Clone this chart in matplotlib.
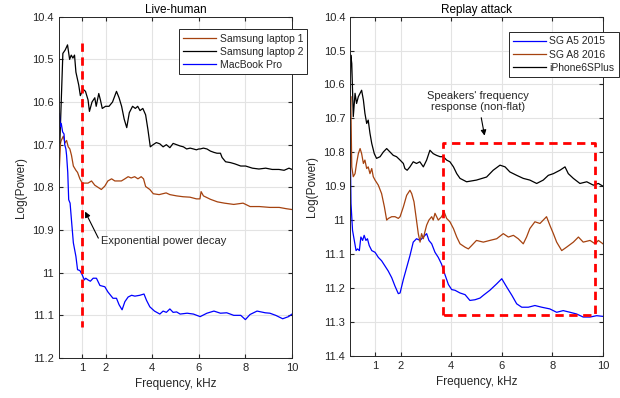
import numpy as np
import matplotlib
matplotlib.use('Agg')
from matplotlib import pyplot as plt
from matplotlib.ticker import FuncFormatter

# Live-human panel
f_lap2 = [0.04, 0.17, 0.27, 0.37, 0.46, 0.53, 0.6, 0.67, 0.73, 0.85, 0.92, 1.04, 1.14, 1.25, 1.31, 1.42, 1.54, 1.6,
          1.71, 1.78, 1.86, 2.0, 2.15, 2.3, 2.47, 2.58, 2.69, 2.8, 2.91, 3.02, 3.16, 3.28, 3.38, 3.48, 3.6, 3.72,
          3.82, 3.92, 4.04, 4.18, 4.33, 4.47, 4.61, 4.76, 4.9, 5.05, 5.2, 5.34, 5.48, 5.63, 5.77, 5.9, 6.0, 6.06,
          6.2, 6.35, 6.5, 6.65, 6.78, 6.93, 7.0, 7.15, 7.36, 7.55, 7.8, 8.01, 8.3, 8.58, 8.87, 9.15, 9.44, 9.66,
          9.87, 10.0]
p_lap2 = [10.696, 10.486, 10.478, 10.466, 10.50, 10.49, 10.497, 10.49, 10.53, 10.56, 10.585, 10.57, 10.575, 10.595,
          10.622, 10.60, 10.59, 10.61, 10.58, 10.595, 10.615, 10.61, 10.61, 10.60, 10.575, 10.59, 10.61, 10.64,
          10.66, 10.625, 10.61, 10.615, 10.61, 10.62, 10.615, 10.63, 10.665, 10.705, 10.70, 10.695, 10.698,
          10.705, 10.70, 10.707, 10.697, 10.70, 10.703, 10.705, 10.71, 10.708, 10.71, 10.712, 10.71, 10.71,
          10.708, 10.71, 10.715, 10.718, 10.72, 10.72, 10.73, 10.74, 10.742, 10.745, 10.75, 10.75, 10.755,
          10.757, 10.755, 10.758, 10.758, 10.76, 10.755, 10.758]

f_lap1 = [0.02, 0.07, 0.1, 0.19, 0.26, 0.33, 0.4, 0.47, 0.54, 0.62, 0.73, 0.8, 0.9, 1.0, 1.1, 1.25, 1.4, 1.54, 1.68,
          1.82, 1.97, 2.1, 2.26, 2.4, 2.54, 2.68, 2.83, 2.97, 3.1, 3.25, 3.39, 3.53, 3.63, 3.72, 3.9, 4.05, 4.3,
          4.6, 4.76, 5.05, 5.33, 5.62, 5.9, 6.05, 6.1, 6.2, 6.5, 6.8, 7.1, 7.5, 7.9, 8.2, 8.6, 9.05, 9.45, 9.75,
          10.0]
p_lap1 = [10.755, 10.696, 10.69, 10.68, 10.696, 10.69, 10.705, 10.71, 10.725, 10.75, 10.76, 10.765, 10.78, 10.79,
          10.79, 10.79, 10.785, 10.795, 10.80, 10.805, 10.797, 10.785, 10.78, 10.785, 10.785, 10.785, 10.78,
          10.775, 10.778, 10.775, 10.78, 10.775, 10.78, 10.798, 10.805, 10.815, 10.817, 10.813, 10.817, 10.82,
          10.822, 10.823, 10.827, 10.827, 10.81, 10.82, 10.828, 10.834, 10.837, 10.84, 10.837, 10.845, 10.845,
          10.847, 10.847, 10.85, 10.852]

f_mac = [0.02, 0.06, 0.1, 0.16, 0.22, 0.25, 0.3, 0.33, 0.38, 0.42, 0.48, 0.55, 0.62, 0.73, 0.8, 0.9, 1.0, 1.09,
         1.15, 1.25, 1.35, 1.47, 1.61, 1.76, 1.97, 2.1, 2.32, 2.47, 2.58, 2.71, 2.83, 2.97, 3.12, 3.26, 3.47, 3.65,
         3.76, 3.9, 4.1, 4.33, 4.47, 4.61, 4.76, 4.9, 5.05, 5.2, 5.5, 5.77, 6.06, 6.35, 6.65, 6.93, 7.2, 7.5, 7.8,
         8.0, 8.2, 8.5, 8.85, 9.05, 9.3, 9.6, 9.85, 10.0]
p_mac = [10.627, 10.658, 10.65, 10.67, 10.675, 10.70, 10.71, 10.725, 10.765, 10.829, 10.837, 10.884, 10.93,
         10.962, 10.993, 10.995, 11.005, 11.017, 11.013, 11.017, 11.02, 11.013, 11.013, 11.03, 11.033, 11.045,
         11.06, 11.06, 11.075, 11.087, 11.068, 11.057, 11.053, 11.055, 11.053, 11.05, 11.065, 11.08, 11.09,
         11.097, 11.09, 11.093, 11.085, 11.093, 11.092, 11.097, 11.095, 11.097, 11.103, 11.095, 11.09, 11.095,
         11.094, 11.1, 11.1, 11.11, 11.098, 11.09, 11.094, 11.095, 11.1, 11.108, 11.103, 11.097]

# Replay attack panel
f_a5 = [0.0, 0.04, 0.1, 0.17, 0.24, 0.3, 0.37, 0.43, 0.5, 0.56, 0.63, 0.69, 0.76, 0.86, 0.99, 1.12, 1.25, 1.38,
        1.51, 1.65, 1.78, 1.91, 1.98, 2.11, 2.24, 2.37, 2.5, 2.63, 2.77, 2.9, 3.03, 3.12, 3.23, 3.36, 3.49, 3.62,
        3.75, 3.89, 4.02, 4.15, 4.35, 4.55, 4.74, 4.94, 5.14, 5.27, 5.53, 5.8, 6.0, 6.2, 6.4, 6.59, 6.79, 7.05,
        7.31, 7.58, 7.9, 8.17, 8.43, 8.7, 8.96, 9.22, 9.49, 9.75, 10.0]
p_a5 = [10.725, 10.951, 11.03, 11.06, 11.09, 11.085, 11.09, 11.05, 11.06, 11.045, 11.06, 11.055, 11.075, 11.09,
        11.095, 11.11, 11.12, 11.135, 11.15, 11.17, 11.195, 11.217, 11.215, 11.175, 11.14, 11.105, 11.065, 11.055,
        11.06, 11.05, 11.04, 11.06, 11.07, 11.095, 11.11, 11.13, 11.16, 11.19, 11.205, 11.207, 11.215, 11.22,
        11.237, 11.235, 11.23, 11.222, 11.207, 11.188, 11.173, 11.198, 11.222, 11.247, 11.257, 11.257, 11.252,
        11.257, 11.262, 11.272, 11.267, 11.272, 11.277, 11.286, 11.286, 11.282, 11.284]

f_a8 = [0.0, 0.03, 0.07, 0.13, 0.2, 0.26, 0.33, 0.4, 0.46, 0.53, 0.59, 0.66, 0.72, 0.79, 0.86, 0.92, 0.99, 1.12,
        1.25, 1.36, 1.45, 1.52, 1.65, 1.78, 1.91, 1.98, 2.11, 2.24, 2.37, 2.44, 2.53, 2.61, 2.7, 2.77, 2.83, 2.9,
        2.96, 3.03, 3.12, 3.23, 3.29, 3.36, 3.49, 3.62, 3.72, 3.82, 3.95, 4.09, 4.22, 4.35, 4.55, 4.68, 4.81, 5.0,
        5.27, 5.53, 5.8, 6.06, 6.26, 6.46, 6.65, 6.85, 6.98, 7.11, 7.31, 7.51, 7.64, 7.77, 7.9, 8.04, 8.17, 8.37,
        8.56, 8.83, 9.03, 9.22, 9.49, 9.69, 9.82, 10.0]
p_a8 = [10.705, 10.635, 10.843, 10.872, 10.863, 10.833, 10.804, 10.789, 10.804, 10.833, 10.823, 10.848, 10.843,
        10.863, 10.848, 10.872, 10.882, 10.897, 10.922, 10.961, 11.0, 10.995, 10.99, 10.99, 10.995, 10.99, 10.961,
        10.927, 10.912, 10.922, 10.946, 10.99, 11.04, 11.065, 11.04, 11.055, 11.035, 11.015, 11.0, 10.99, 11.0,
        10.98, 11.0, 10.99, 10.975, 10.995, 11.005, 11.025, 11.05, 11.07, 11.08, 11.085, 11.075, 11.06, 11.065,
        11.06, 11.055, 11.04, 11.05, 11.045, 11.055, 11.07, 11.05, 11.025, 11.005, 11.01, 11.0, 10.99, 11.015,
        11.04, 11.065, 11.09, 11.08, 11.065, 11.05, 11.065, 11.06, 11.07, 11.06, 11.07]

f_ip = [0.0, 0.03, 0.07, 0.13, 0.2, 0.26, 0.33, 0.46, 0.53, 0.59, 0.66, 0.72, 0.79, 0.86, 0.96, 1.05, 1.19, 1.32,
        1.45, 1.58, 1.71, 1.84, 1.98, 2.11, 2.17, 2.26, 2.37, 2.5, 2.63, 2.76, 2.9, 3.03, 3.16, 3.29, 3.42, 3.56,
        3.69, 3.82, 3.95, 4.09, 4.22, 4.35, 4.61, 5.0, 5.4, 5.66, 5.93, 6.13, 6.32, 6.59, 6.85, 7.11, 7.38, 7.64,
        7.84, 8.04, 8.3, 8.5, 8.63, 8.83, 9.09, 9.36, 9.62, 9.82, 10.0]
p_ip = [10.656, 10.513, 10.538, 10.695, 10.626, 10.656, 10.636, 10.617, 10.646, 10.685, 10.715, 10.705, 10.744,
        10.774, 10.804, 10.818, 10.813, 10.799, 10.789, 10.799, 10.809, 10.813, 10.823, 10.833, 10.848, 10.853,
        10.843, 10.828, 10.833, 10.828, 10.843, 10.823, 10.794, 10.804, 10.809, 10.813, 10.813, 10.823, 10.828,
        10.843, 10.863, 10.877, 10.887, 10.882, 10.873, 10.853, 10.838, 10.843, 10.858, 10.868, 10.877, 10.882,
        10.892, 10.882, 10.868, 10.863, 10.853, 10.843, 10.863, 10.877, 10.892, 10.887, 10.897, 10.892, 10.9]

brown = '#a5420f'
gray = '#262626'
plt.rcParams['font.family'] = ['Liberation Sans', 'DejaVu Sans']
plt.rcParams['font.size'] = 8

fig = plt.figure(figsize=(6.2, 3.98), dpi=100)
ax1 = fig.add_axes([0.095, 0.1005, 0.376, 0.8575])
ax2 = fig.add_axes([0.5645, 0.1063, 0.408, 0.8518])


def style(ax, ylo, yhi):
    ax.set_xlim(0, 10)
    ax.set_ylim(yhi, ylo)
    ax.set_xticks([1, 2, 4, 6, 8, 10])
    ax.set_yticks(np.round(np.arange(ylo, yhi + 0.001, 0.1), 1))
    ax.yaxis.set_major_formatter(FuncFormatter(lambda v, p: '%g' % v))
    ax.grid(True, color='#e3e3e3', linewidth=0.8)
    ax.set_axisbelow(True)
    ax.tick_params(direction='in', top=True, right=True, length=3, colors=gray, labelcolor=gray)
    for s in ax.spines.values():
        s.set_color(gray)
        s.set_linewidth(0.7)
    ax.set_xlabel('Frequency, kHz', color=gray, fontsize=8.5)
    ax.set_ylabel('Log(Power)', color=gray, fontsize=8.5)


def add_legend(ax, x, y):
    leg = ax.legend(loc='upper left', bbox_to_anchor=(x, y), frameon=True, fancybox=False,
                    edgecolor=gray, framealpha=1, handlelength=3.2, borderpad=0.4, labelspacing=0.3,
                    handletextpad=0.3, borderaxespad=0, fontsize=7.5)
    leg.get_frame().set_linewidth(0.7)
    for t in leg.get_texts():
        t.set_color(gray)


ax1.plot(f_lap1, p_lap1, color=brown, lw=0.9, label='Samsung laptop 1')
ax1.plot(f_lap2, p_lap2, color='black', lw=0.9, label='Samsung laptop 2')
ax1.plot(f_mac, p_mac, color='#0000ff', lw=0.9, label='MacBook Pro')
ax1.plot([0.97, 0.97], [10.461, 11.127], color='red', lw=2, ls=(0, (3, 2)))
style(ax1, 10.4, 11.2)
ax1.set_title('Live-human', fontsize=8.5, pad=3)
ax1.annotate('Exponential power decay', xy=(1.07, 10.851), xytext=(4.5, 10.925),
             ha='center', va='center', fontsize=8, color=gray,
             arrowprops=dict(arrowstyle='-|>', color='black', lw=0.8, shrinkA=0,
                             relpos=(0.0, 0.2)))
add_legend(ax1, 0.515, 0.963)

ax2.plot(f_a5, p_a5, color='#0000ff', lw=0.9, label='SG A5 2015')
ax2.plot(f_a8, p_a8, color=brown, lw=0.9, label='SG A8 2016')
ax2.plot(f_ip, p_ip, color='black', lw=0.9, label='iPhone6SPlus')
ax2.plot([3.69, 3.69, 9.68, 9.68, 3.69], [11.281, 10.772, 10.772, 11.281, 11.281],
         color='red', lw=2, ls=(0, (3, 2)))
style(ax2, 10.4, 11.4)
ax2.set_title('Replay attack', fontsize=8.5, pad=3)
ax2.annotate("Speakers' frequency\nresponse (non-flat)", xy=(5.34, 10.759), xytext=(5.07, 10.65),
             ha='center', va='center', fontsize=8, color=gray,
             arrowprops=dict(arrowstyle='-|>', color='black', lw=0.8, shrinkA=2))
add_legend(ax2, 0.628, 0.954)

plt.savefig('out.png', dpi=100)
